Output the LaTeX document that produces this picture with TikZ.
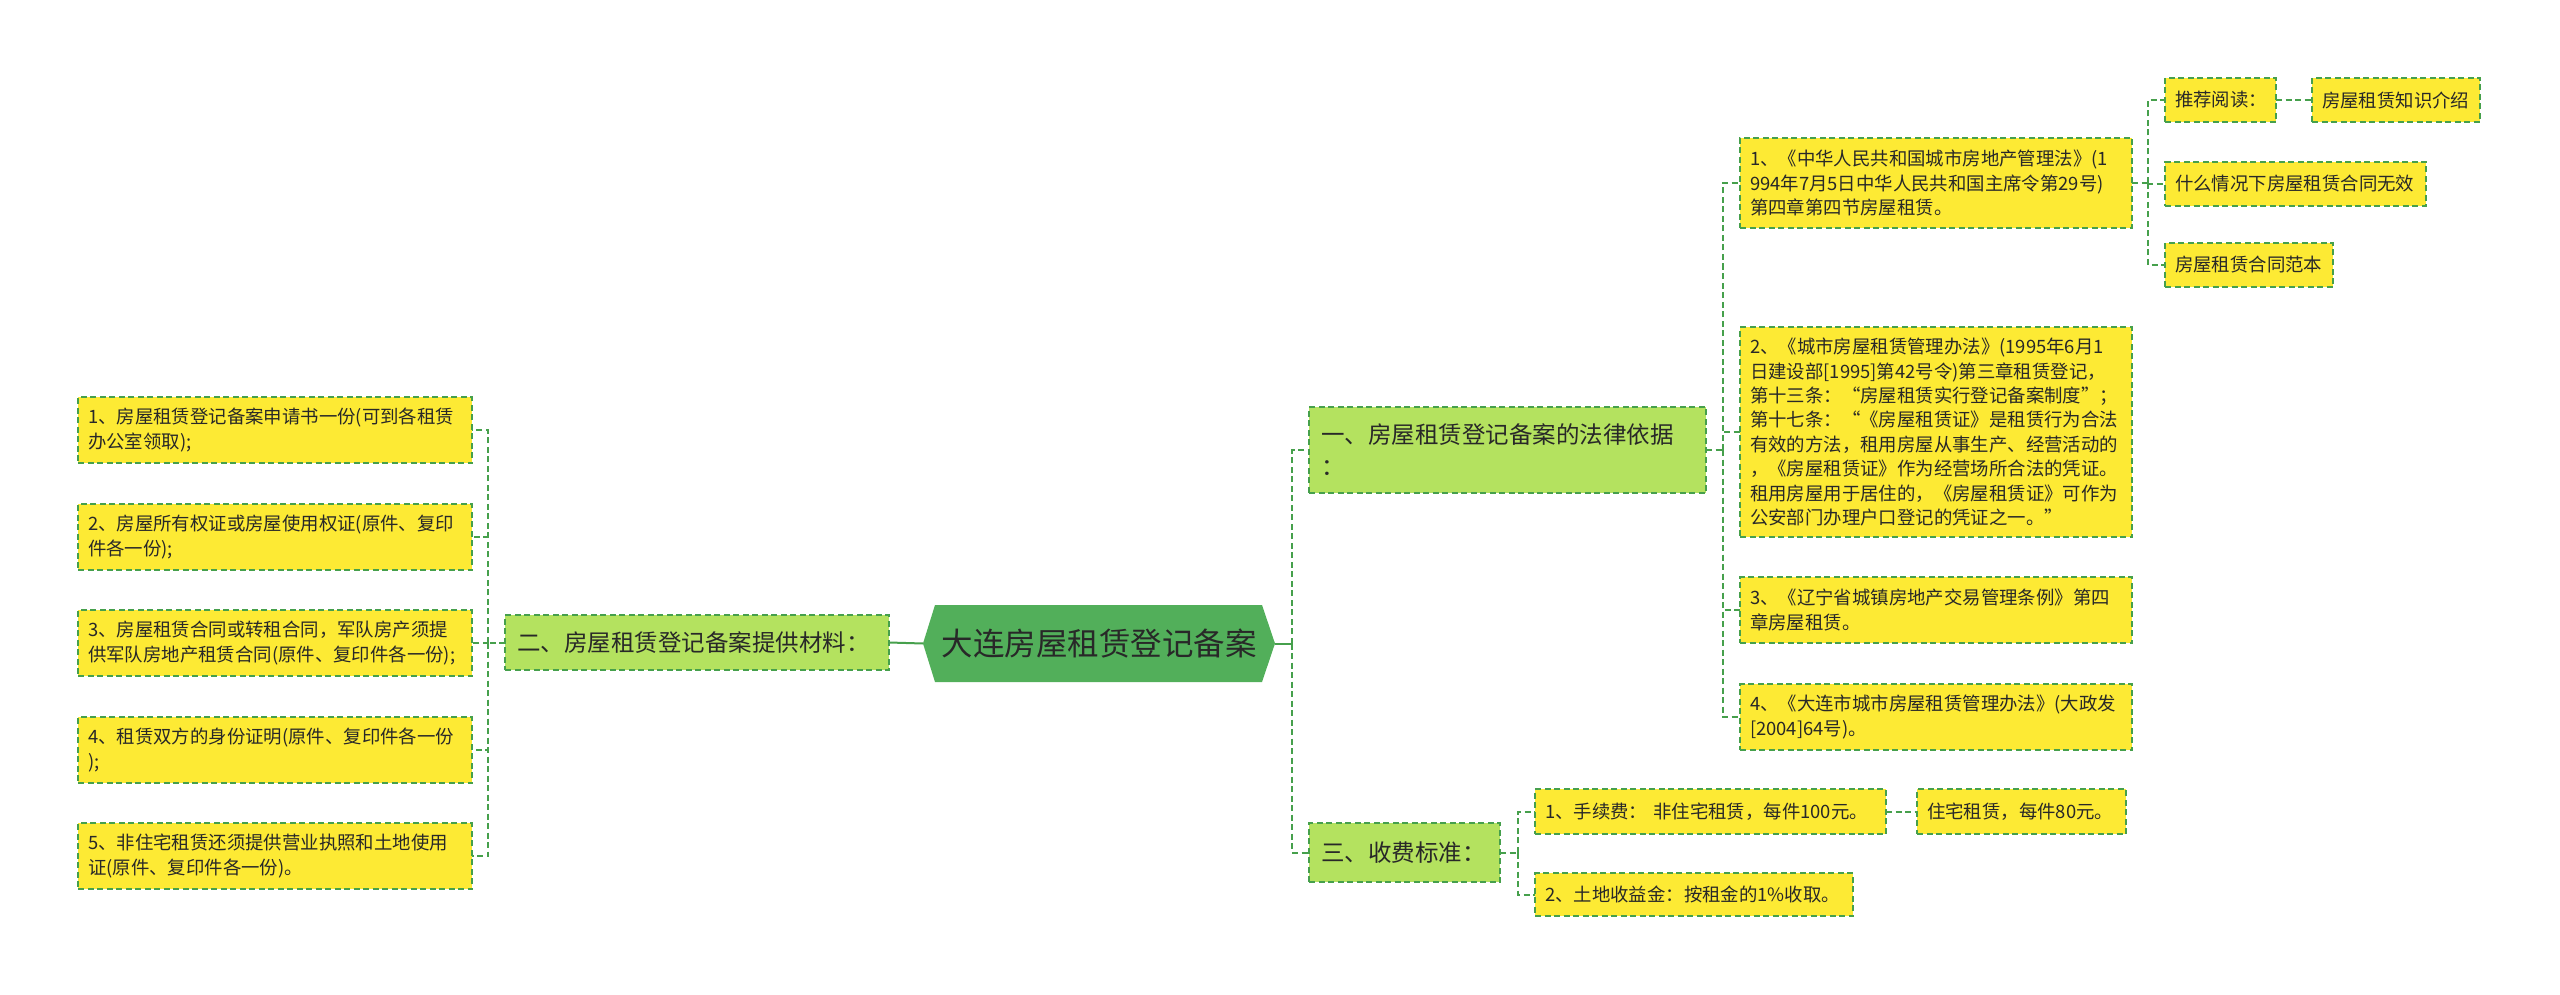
\documentclass[tikz,border=0pt]{standalone}
\usepackage{fontspec}
\setmainfont{Noto Sans CJK SC}
\usetikzlibrary{backgrounds}
\definecolor{rootg}{RGB}{82,175,90}
\definecolor{lineg}{RGB}{70,160,76}
\definecolor{brg}{RGB}{180,226,95}
\definecolor{leafy}{RGB}{253,234,52}
\definecolor{txt}{RGB}{40,40,40}
\begin{document}
\begin{tikzpicture}[x=1pt,y=-1pt,
  box/.style={anchor=north west, draw=lineg, line width=2pt, dash pattern=on 6pt off 3.5pt,
    inner xsep=10pt, inner ysep=0pt, outer sep=0pt, align=left, text=txt},
  leaf/.style={box, fill=leafy, font=\fontsize{18.4}{24.4}\selectfont},
  branch/.style={box, fill=brg, inner xsep=12pt, font=\fontsize{23.5}{32}\selectfont},
  conn/.style={draw=lineg, line width=2pt, dash pattern=on 6pt off 3.5pt},
  solidconn/.style={draw=lineg, line width=2pt}]
\useasboundingbox (0,0) rectangle (2560,995);

% root
\node[anchor=north west, minimum width=352pt, minimum height=77pt, inner sep=0pt, outer sep=0pt,
  text=txt, font=\fontsize{31.5}{36}\selectfont] (root) at (923,605) {大连房屋租赁登记备案};
\begin{pgfonlayer}{background}
\fill[rootg] (root.west) -- ([xshift=12pt]root.north west) -- ([xshift=-13pt]root.north east)
  -- (root.east) -- ([xshift=-13pt]root.south east) -- ([xshift=12pt]root.south west) -- cycle;
\end{pgfonlayer}

% branches
\node[branch, text width=360pt, minimum height=55pt] (er) at (505,615) {二、房屋租赁登记备案提供材料：};
\node[branch, text width=373pt, minimum height=86pt] (b1) at (1309,407) {一、房屋租赁登记备案的法律依据\\：};
\node[branch, text width=167pt, minimum height=59pt] (b3) at (1309,823) {三、收费标准：};

% legal basis leaves
\node[leaf, text width=372pt, minimum height=90pt] (c1) at (1740,138)
  {1、《中华人民共和国城市房地产管理法》(1\\994年7月5日中华人民共和国主席令第29号)\\第四章第四节房屋租赁。};
\node[leaf, text width=372pt, minimum height=210pt] (c2) at (1740,327)
  {2、《城市房屋租赁管理办法》(1995年6月1\\日建设部[1995]第42号令)第三章租赁登记，\\第十三条：“房屋租赁实行登记备案制度”；\\第十七条：“《房屋租赁证》是租赁行为合法\\有效的方法，租用房屋从事生产、经营活动的\\，《房屋租赁证》作为经营场所合法的凭证。\\租用房屋用于居住的，《房屋租赁证》可作为\\公安部门办理户口登记的凭证之一。”};
\node[leaf, text width=372pt, minimum height=66pt] (c3) at (1740,577)
  {3、《辽宁省城镇房地产交易管理条例》第四\\章房屋租赁。};
\node[leaf, text width=372pt, minimum height=66pt] (c4) at (1740,684)
  {4、《大连市城市房屋租赁管理办法》(大政发\\{[}2004{]}64号)。};

% sub-leaves of c1
\node[leaf, text width=91pt, minimum height=44pt] (d1) at (2165,78) {推荐阅读：};
\node[leaf, text width=148pt, minimum height=44pt] (d1b) at (2312,78) {房屋租赁知识介绍};
\node[leaf, text width=241pt, minimum height=44pt] (d2) at (2165,162) {什么情况下房屋租赁合同无效};
\node[leaf, text width=148pt, minimum height=44pt] (d3) at (2165,243) {房屋租赁合同范本};

% fee leaves
\node[leaf, text width=331pt, minimum height=45pt] (e1) at (1535,789) {1、手续费： 非住宅租赁，每件100元。};
\node[leaf, text width=189pt, minimum height=45pt] (e1b) at (1917,789) {住宅租赁，每件80元。};
\node[leaf, text width=298pt, minimum height=43pt] (e2) at (1535,873) {2、土地收益金：按租金的1\%收取。};

% materials leaves
\node[leaf, text width=374pt, minimum height=66pt] (a1) at (78,397)
  {1、房屋租赁登记备案申请书一份(可到各租赁\\办公室领取);};
\node[leaf, text width=374pt, minimum height=66pt] (a2) at (78,504)
  {2、房屋所有权证或房屋使用权证(原件、复印\\件各一份);};
\node[leaf, text width=374pt, minimum height=66pt] (a3) at (78,610)
  {3、房屋租赁合同或转租合同，军队房产须提\\供军队房地产租赁合同(原件、复印件各一份);};
\node[leaf, text width=374pt, minimum height=66pt] (a4) at (78,717)
  {4、租赁双方的身份证明(原件、复印件各一份\\);};
\node[leaf, text width=374pt, minimum height=66pt] (a5) at (78,823)
  {5、非住宅租赁还须提供营业执照和土地使用\\证(原件、复印件各一份)。};

% connectors
\draw[solidconn] (root.west) -- (er.east);
\coordinate (rt) at ([xshift=17pt]root.east);
\draw[solidconn] (root.east) -- (rt);
\draw[conn] (rt) |- (b1.west);
\draw[conn] (rt) |- (b3.west);

\coordinate (lt) at ([xshift=-17pt]er.west);
\draw[conn] (er.west) -- (lt);
\foreach \n in {a1,a2,a3,a4,a5} \draw[conn] (lt) |- (\n.east);

\coordinate (t1) at ([xshift=17pt]b1.east);
\draw[conn] (b1.east) -- (t1);
\foreach \n in {c1,c2,c3,c4} \draw[conn] (t1) |- (\n.west);

\coordinate (t2) at ([xshift=16pt]c1.east);
\draw[conn] (c1.east) -- (t2);
\foreach \n in {d1,d2,d3} \draw[conn] (t2) |- (\n.west);
\draw[conn] (d1.east) -- (d1b.west);

\coordinate (t3) at ([xshift=18pt]b3.east);
\draw[conn] (b3.east) -- (t3);
\foreach \n in {e1,e2} \draw[conn] (t3) |- (\n.west);
\draw[conn] (e1.east) -- (e1b.west);
\end{tikzpicture}
\end{document}
